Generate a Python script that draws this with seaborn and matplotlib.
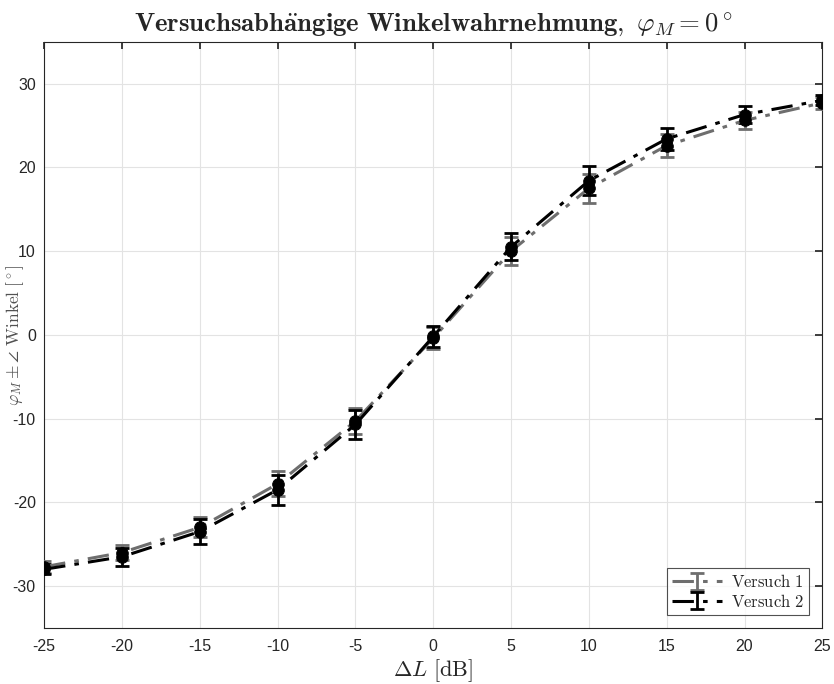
import matplotlib
matplotlib.use("Agg")
import matplotlib.pyplot as plt
import seaborn as sns
import numpy as np

# Data
delta_l = [-25, -20, -15, -10, -5, 0, 5, 10, 15, 20, 25]
v1_mean = [-27.7, -26.0, -23.0, -17.8, -10.3, -0.4, 10.0, 17.5, 22.6, 25.6, 27.7]
v1_err = [0.7, 0.9, 1.2, 1.5, 1.6, 1.3, 1.7, 1.7, 1.4, 1.0, 0.7]
v2_mean = [-28.0, -26.5, -23.5, -18.5, -10.7, -0.2, 10.5, 18.4, 23.4, 26.3, 28.0]
v2_err = [0.6, 1.1, 1.5, 1.8, 1.7, 1.2, 1.6, 1.7, 1.3, 1.0, 0.6]
series_labels = [r"$\mathrm{Versuch\ 1}$", r"$\mathrm{Versuch\ 2}$"]
x_ticks = [-25, -20, -15, -10, -5, 0, 5, 10, 15, 20, 25]
y_ticks = [-30, -20, -10, 0, 10, 20, 30]

sns.set_theme(style="whitegrid")
plt.rcParams['font.family'] = ['Liberation Sans', 'DejaVu Sans']
plt.rcParams['mathtext.fontset'] = 'cm'

fig = plt.figure(figsize=(8.34, 6.84), dpi=100)
ax = fig.add_axes([0.053, 0.082, 0.933, 0.857])

styles = [
    (v1_mean, v1_err, '#6e6e6e', series_labels[0]),
    (v2_mean, v2_err, '#000000', series_labels[1]),
]
handles = []
for mean, err, col, lab in styles:
    h = ax.errorbar(delta_l, mean, yerr=err, fmt='-.', color=col, lw=2.2,
                    elinewidth=2.0, capsize=5, capthick=2.0, label=lab,
                    dashes=(7, 3, 1.5, 3), zorder=3)
    handles.append(h)
    sns.scatterplot(x=delta_l, y=mean, color='black', s=70, marker='o',
                    edgecolor='black', ax=ax, zorder=4, legend=False)

ax.set_xlim(-25, 25)
ax.set_ylim(-35, 35)
ax.set_xticks(x_ticks)
ax.set_yticks(y_ticks)
ax.set_xticklabels([str(t) for t in x_ticks])
ax.set_yticklabels([str(t) for t in y_ticks])
ax.tick_params(axis='both', direction='in', length=5, labelsize=11.5,
               top=True, right=True, color='#262626', labelcolor='#262626')
ax.tick_params(axis='x', pad=8)
ax.tick_params(axis='y', pad=6)
ax.grid(True, color='#e3e3e3', lw=0.8)
for s in ax.spines.values():
    s.set_color('#262626')
    s.set_linewidth(0.8)

ax.set_title(r"$\mathbf{Versuchsabh\ddot{a}ngige\ Winkelwahrnehmung,}\ \varphi_M = 0^\circ$",
             fontsize=19.3, pad=8)
ax.set_xlabel(r"$\Delta L\ [\mathrm{dB}]$", fontsize=16, color='#262626', labelpad=2)
ax.set_ylabel(r"$\varphi_M \pm \angle\ \mathrm{Winkel}\ [^\circ]$",
              fontsize=12.5, color='#505050')
ax.yaxis.set_label_coords(-0.024, 0.5)

leg = ax.legend(handles=handles, loc='lower right', frameon=True, fancybox=False,
                prop={'size': 12}, handlelength=3, borderaxespad=0.8,
                labelspacing=0.15, borderpad=0.3, handletextpad=0.5)
leg.get_frame().set_edgecolor('#262626')
leg.get_frame().set_linewidth(0.8)

fig.savefig("out.png", dpi=100)
